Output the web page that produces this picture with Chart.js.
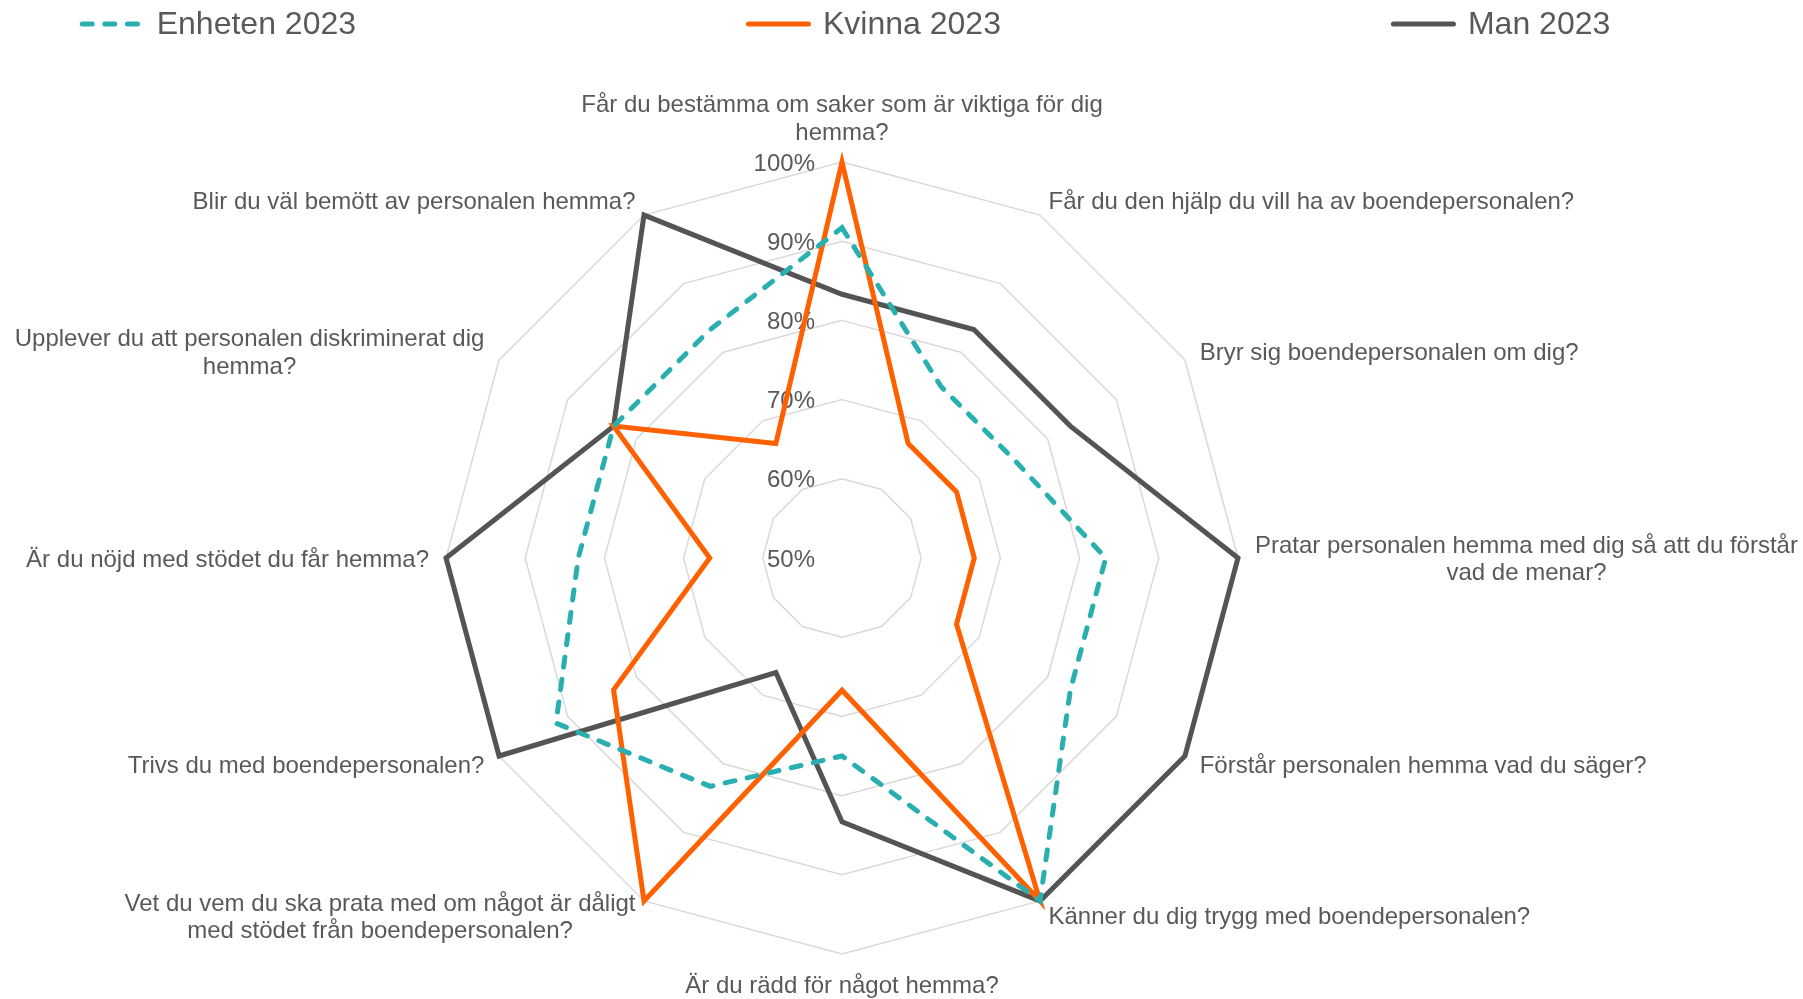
<!DOCTYPE html>
<html lang="sv">
<head>
<meta charset="utf-8">
<title>Radar 2023</title>
<script src="https://cdn.jsdelivr.net/npm/chart.js@4/dist/chart.umd.min.js"></script>
<style>
  html, body { margin: 0; padding: 0; background: #ffffff; }
</style>
</head>
<body>
<canvas id="radarChart" width="1803" height="999"></canvas>
<script>
// Questions (one per spoke, clockwise from the top)
const questions = [
  ["Får du bestämma om saker som är viktiga för dig", "hemma?"],
  "Får du den hjälp du vill ha av boendepersonalen?",
  "Bryr sig boendepersonalen om dig?",
  ["Pratar personalen hemma med dig så att du förstår", "vad de menar?"],
  "Förstår personalen hemma vad du säger?",
  "Känner du dig trygg med boendepersonalen?",
  "Är du rädd för något hemma?",
  ["Vet du vem du ska prata med om något är dåligt", "med stödet från boendepersonalen?"],
  "Trivs du med boendepersonalen?",
  "Är du nöjd med stödet du får hemma?",
  ["Upplever du att personalen diskriminerat dig", "hemma?"],
  "Blir du väl bemött av personalen hemma?",
];

// Share answering positively, in percent
const enheten2023 = [91.7, 75, 75, 83.3, 83.3, 100, 75, 83.3, 91.7, 83.3, 83.3, 83.3];
const kvinna2023 = [100, 66.7, 66.7, 66.7, 66.7, 100, 66.7, 100, 83.3, 66.7, 83.3, 66.7];
const man2023 = [83.3, 83.3, 83.3, 100, 100, 100, 83.3, 66.7, 100, 100, 83.3, 100];

// Rings of the web
const tickValues = [50, 60, 70, 80, 90, 100];

const FONT = '"Liberation Sans", Arial, sans-serif';
const TEXT_COLOR = "#595959";

// Percent labels up the top spoke, a bit left of it
const tickLabels = {
  id: "tickLabels",
  beforeDatasetsDraw(chart) {
    const scale = chart.scales.r;
    const c = chart.ctx;
    c.save();
    c.font = "24px " + FONT;
    c.fillStyle = TEXT_COLOR;
    c.textAlign = "right";
    c.textBaseline = "middle";
    scale.ticks.forEach((t) => {
      const d = scale.getDistanceFromCenterForValue(t.value);
      c.fillText(t.value + "%", scale.xCenter - 27, scale.yCenter - d + 2);
    });
    c.restore();
  },
};

// Question texts around the web, Excel style placement
const questionLabels = {
  id: "questionLabels",
  afterDraw(chart) {
    const scale = chart.scales.r;
    const c = chart.ctx;
    const lineH = 27.5;
    c.save();
    c.font = "24px " + FONT;
    c.fillStyle = TEXT_COLOR;
    c.textAlign = "center";
    c.textBaseline = "middle";
    chart.data.labels.forEach((label, i) => {
      const lines = Array.isArray(label) ? label : [label];
      const pos = scale.getPointPosition(i, scale.drawingArea + 17);
      const w = Math.max(...lines.map((l) => c.measureText(l).width));
      const dx = pos.x - scale.xCenter;
      const dy = pos.y - scale.yCenter;

      let cx = pos.x;
      if (dx > 1) cx = pos.x + w / 2;
      else if (dx < -1) cx = pos.x - w / 2;

      let top = pos.y - (lines.length * lineH) / 2;
      if (Math.abs(dx) <= 1 && dy < 0) top = pos.y - lines.length * lineH;
      if (Math.abs(dx) <= 1 && dy > 0) top = pos.y;

      lines.forEach((l, k) => {
        c.fillText(l, cx, top + lineH * (k + 0.5) + 2);
      });
    });
    c.restore();
  },
};

// Legend row at the top
const topLegend = {
  id: "topLegend",
  afterDraw(chart) {
    const c = chart.ctx;
    const scale = chart.scales.r;
    const sample = 65;
    const gapText = 12;
    const gapItem = 390;
    const y = 24;
    c.save();
    c.font = "32px " + FONT;
    const items = chart.data.datasets.map((ds) => {
      return { ds: ds, w: sample + gapText + c.measureText(ds.label).width };
    });
    const total =
      items.reduce((s, it) => s + it.w, 0) + gapItem * (items.length - 1);
    let x = scale.xCenter + 3 - total / 2;
    items.forEach((it) => {
      const ds = it.ds;
      c.strokeStyle = ds.borderColor;
      c.lineWidth = ds.borderWidth;
      c.lineCap = "round";
      c.setLineDash(ds.borderDash || []);
      c.beginPath();
      c.moveTo(x + 2.5, y);
      c.lineTo(x + sample - 2.5, y);
      c.stroke();
      c.setLineDash([]);
      c.fillStyle = TEXT_COLOR;
      c.textAlign = "left";
      c.textBaseline = "middle";
      c.fillText(ds.label, x + sample + gapText, y + 1);
      x += it.w + gapItem;
    });
    c.restore();
  },
};

const ctx = document.getElementById("radarChart").getContext("2d");

new Chart(ctx, {
  type: "radar",
  data: {
    labels: questions,
    datasets: [
      {
        label: "Enheten 2023",
        data: enheten2023,
        borderColor: "#2aafb1",
        borderWidth: 5,
        borderDash: [10, 12.6],
        borderCapStyle: "round",
        fill: false,
        pointRadius: 0,
        clip: false,
      },
      {
        label: "Kvinna 2023",
        data: kvinna2023,
        borderColor: "#ff6100",
        borderWidth: 5,
        fill: false,
        pointRadius: 0,
        clip: false,
      },
      {
        label: "Man 2023",
        data: man2023,
        borderColor: "#545454",
        borderWidth: 5,
        fill: false,
        pointRadius: 0,
        clip: false,
      },
    ],
  },
  options: {
    responsive: false,
    animation: false,
    layout: {
      padding: { top: 162, bottom: 45, left: 0, right: 119 },
    },
    scales: {
      r: {
        min: tickValues[0],
        max: tickValues[tickValues.length - 1],
        ticks: { display: false, stepSize: tickValues[1] - tickValues[0] },
        grid: { color: "#d9d9d9", lineWidth: 1.5 },
        angleLines: { display: false },
        pointLabels: { display: false },
      },
    },
    plugins: {
      legend: { display: false },
      tooltip: { enabled: false },
    },
  },
  plugins: [tickLabels, questionLabels, topLegend],
});
</script>
</body>
</html>
